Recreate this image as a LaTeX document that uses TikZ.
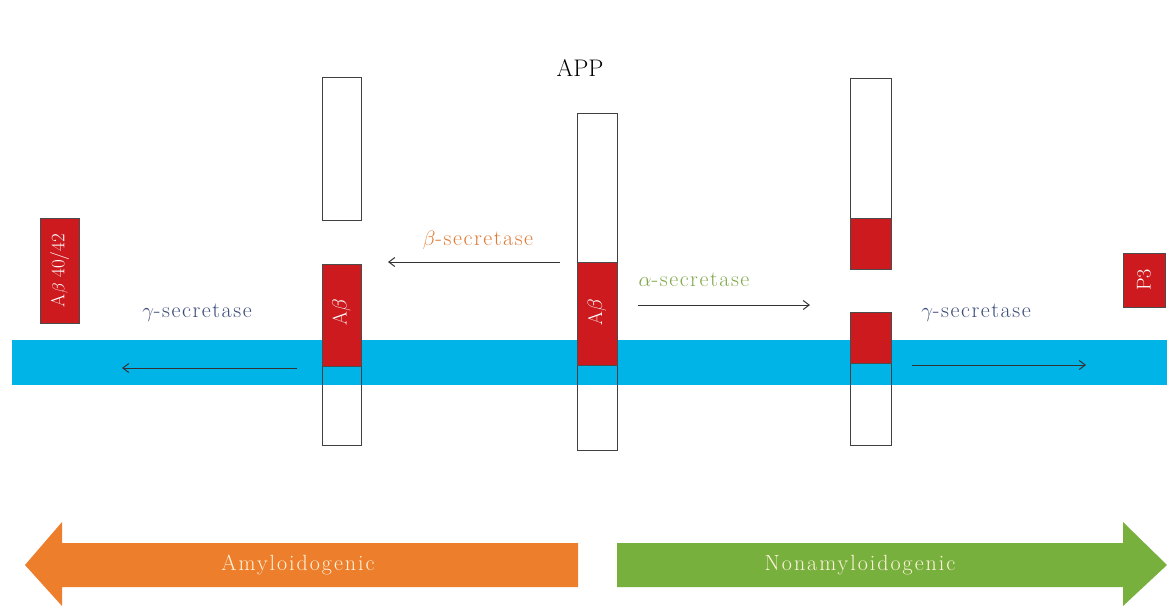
\documentclass[tikz,border=0pt]{standalone}
\usepackage{fontspec}
\setmainfont{Latin Modern Roman}
\usetikzlibrary{arrows.meta}
\definecolor{membrane}{HTML}{00B4E8}
\definecolor{abred}{HTML}{CC1A1F}
\definecolor{amyorange}{HTML}{EC7E2C}
\definecolor{nongreen}{HTML}{78B03E}
\definecolor{betacol}{HTML}{E07A35}
\definecolor{alphacol}{HTML}{7FA84A}
\definecolor{gammacol}{HTML}{3B4A78}
\definecolor{textcream}{HTML}{FFF3DC}
\begin{document}
\begin{tikzpicture}[x=1pt,y=-1pt,
  colbox/.style={draw=black!75,line width=1pt},
  redbox/.style={fill=abred,draw=black!70,line width=0.8pt},
  redtext/.style={text=white,rotate=90,font=\fontsize{20}{24}\selectfont},
  enzlabel/.style={font=\fontsize{22}{26}\selectfont\addfontfeatures{LetterSpace=7}},
  cut/.style={-{Straight Barb[length=6pt,width=9pt]},line width=1pt,draw=black!80},
  pathtext/.style={text=textcream,font=\fontsize{22}{26}\selectfont\addfontfeatures{LetterSpace=9}}]
\useasboundingbox (0,0) rectangle (1167,606);
% membrane
\fill[membrane] (12,340) rectangle (1167,385);
% left column (amyloidogenic product)
\draw[colbox] (322,77) rectangle (361,220);
\draw[colbox] (322,264) rectangle (361,445);
\filldraw[redbox] (322,264) rectangle (361,366);
\node[redtext] (abL) at (341.5,312) {A$\beta$};
% center APP
\node[font=\fontsize{24}{28}\selectfont] (app) at (580,68) {APP};
\draw[colbox] (577,113) rectangle (617,450);
\filldraw[redbox] (577,262) rectangle (617,365);
\node[redtext] (abC) at (597,312) {A$\beta$};
% right column
\draw[colbox] (850,78) rectangle (891,269);
\filldraw[redbox] (850,218) rectangle (891,269);
\draw[colbox] (850,312) rectangle (891,445);
\filldraw[redbox] (850,312) rectangle (891,363);
% products
\filldraw[redbox] (40,218) rectangle (79,323);
\node[redtext,font=\fontsize{19}{22}\selectfont] (ab4042) at (59.5,270.5) {A$\beta$ 40/42};
\filldraw[redbox] (1123,253) rectangle (1165,307);
\node[redtext] (p3) at (1144,280) {P3};
% enzyme labels
\node[enzlabel,text=betacol] (beta) at (478,240) {$\beta$-secretase};
\node[enzlabel,text=alphacol] (alpha) at (694,280) {$\alpha$-secretase};
\node[enzlabel,text=gammacol] (gammaL) at (197,313) {$\gamma$-secretase};
\node[enzlabel,text=gammacol] (gammaR) at (976,313) {$\gamma$-secretase};
% cleavage arrows
\coordinate (b1) at (560,262); \coordinate (b2) at (388,262);
\coordinate (a1) at (638,305); \coordinate (a2) at (810,305);
\coordinate (gl1) at (297,368); \coordinate (gl2) at (122,368);
\coordinate (gr1) at (912,365); \coordinate (gr2) at (1086,365);
\draw[cut] (b1) -- (b2);
\draw[cut] (a1) -- (a2);
\draw[cut] (gl1) -- (gl2);
\draw[cut] (gr1) -- (gr2);
% pathway arrows
\fill[amyorange] (578,543) -- (62,543) -- (62,522) -- (25,565) -- (62,606) -- (62,587) -- (578,587) -- cycle;
\node[pathtext] (amy) at (298,565) {Amyloidogenic};
\fill[nongreen] (617,543) -- (1123,543) -- (1123,522) -- (1167,565) -- (1123,606) -- (1123,587) -- (617,587) -- cycle;
\node[pathtext] (non) at (860,565) {Nonamyloidogenic};
\end{tikzpicture}
\end{document}
